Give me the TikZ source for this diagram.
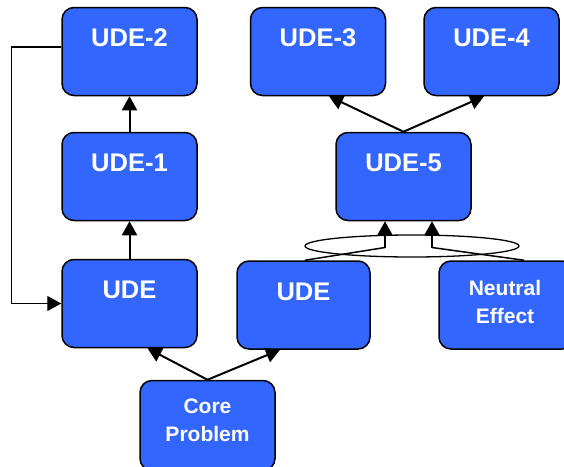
\documentclass[tikz,border=0pt]{standalone}
\usepackage{fontspec}
\setmainfont{Liberation Sans}
\usetikzlibrary{arrows.meta}
\definecolor{udeblue}{RGB}{51,102,255}
\tikzset{
  box/.style={draw=black, line width=1.5pt, fill=udeblue, rounded corners=12pt,
    minimum width=135pt, minimum height=88pt, inner sep=0pt},
  bigtxt/.style={text=white, font=\bfseries\fontsize{25.5}{28}\selectfont},
  smalltxt/.style={text=white, font=\bfseries\fontsize{21}{28}\selectfont, align=center},
  tip/.style={-{Triangle[length=14pt,width=15pt]}},
  arr/.style={line width=2pt, tip},
  thin/.style={line width=1.3pt},
}
\begin{document}
\begin{tikzpicture}[x=1pt,y=-1pt]
\clip (0,0) rectangle (564,466);
\fill[white] (0,0) rectangle (564,466);

% boxes
\node[box] (u2) at (129.5,51.5) {};
\node[box] (u1) at (129.5,176.5) {};
\node[box] (udeL) at (129.5,303.5) {};
\node[box] (u3) at (318,51.5) {};
\node[box] (u4) at (491.5,51.5) {};
\node[box] (u5) at (403.5,176.5) {};
\node[box, minimum width=133pt] (udeM) at (303.5,305) {};
\node[box] (ne) at (506.5,305) {};
\node[box, minimum height=90pt] (core) at (207.5,425.5) {};

% labels
\node[bigtxt] at ([yshift=13.5pt]u2.center) {UDE-2};
\node[bigtxt] at ([yshift=13.5pt]u1.center) {UDE-1};
\node[bigtxt] at ([yshift=13.5pt]udeL.center) {UDE};
\node[bigtxt] at ([yshift=13.5pt]u3.center) {UDE-3};
\node[bigtxt] at ([yshift=13.5pt]u4.center) {UDE-4};
\node[bigtxt] at ([yshift=13.5pt]u5.center) {UDE-5};
\node[bigtxt] at ([yshift=13.5pt]udeM.center) {UDE};
\node[smalltxt] at ([xshift=-1.5pt,yshift=3.5pt]ne.center) {Neutral\\Effect};
\node[smalltxt] at ([yshift=5pt]core.center) {Core\\Problem};

% vertical chain on the left
\draw[arr] (udeL.north) -- (u1.south);
\draw[arr] (u1.north) -- (u2.south);

% feedback loop from UDE-2 back to UDE
\draw[thin, tip] ([yshift=4.5pt]u2.west) -- ++(-50,0) |- (udeL.west);

% core problem fans out
\draw[arr] (core.north) -- ([xshift=18pt]udeL.south);
\draw[arr] (core.north) -- ([xshift=-23.5pt]udeM.south);

% UDE-5 fans out
\draw[arr] (u5.north) -- ([xshift=11pt]u3.south);
\draw[arr] (u5.north) -- ([xshift=-7.5pt]u4.south);

% combined causes into UDE-5
\coordinate (j1) at (385,247.5);
\coordinate (j2) at (432,247.5);
\draw[thin] (412,246) ellipse [x radius=107, y radius=11];
\draw[line width=1.5pt] ([xshift=1.5pt]udeM.north) -- (j1);
\draw[arr] (j1) -- (j1 |- u5.south);
\draw[line width=1.5pt] ([xshift=17.5pt]ne.north) -- (j2);
\draw[arr] (j2) -- (j2 |- u5.south);
\end{tikzpicture}
\end{document}
